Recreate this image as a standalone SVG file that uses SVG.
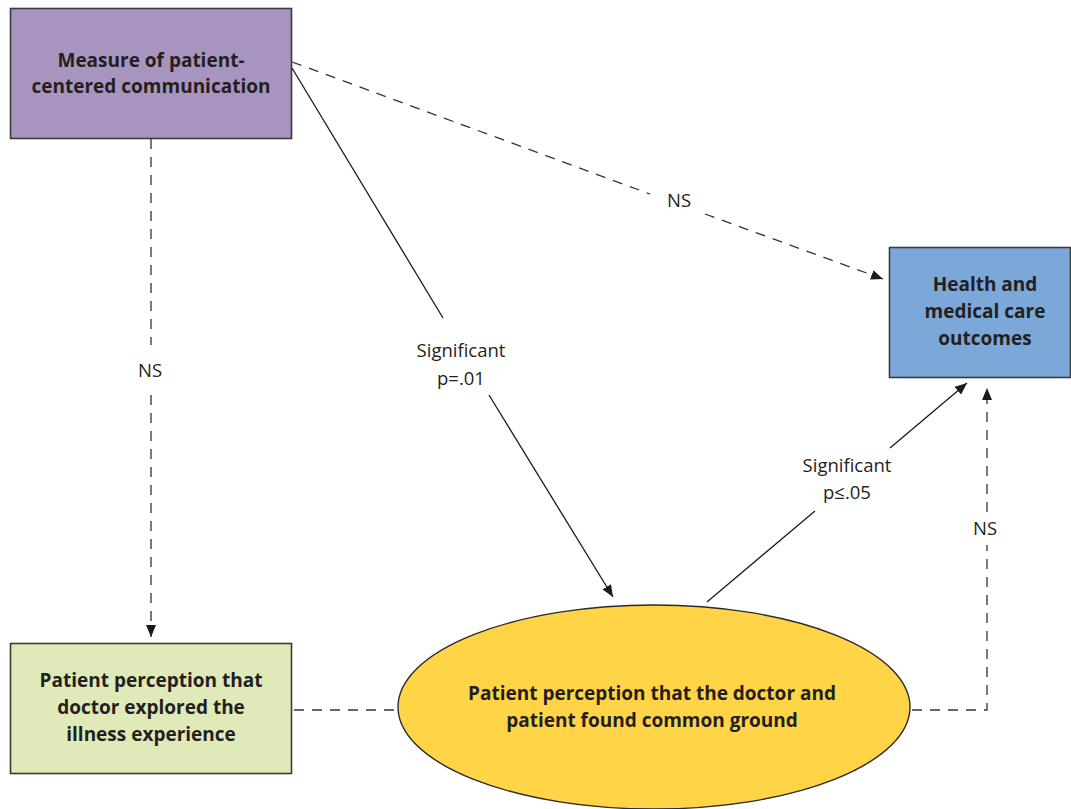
<svg xmlns="http://www.w3.org/2000/svg" width="1071" height="809" viewBox="0 0 1071 809">
  <defs>
    <marker id="arrow" viewBox="0 0 12 10" refX="12" refY="5" markerWidth="12" markerHeight="10" markerUnits="userSpaceOnUse" orient="auto">
      <path d="M0,0 L12,5 L0,10 Z" fill="#1a1a1a"/>
    </marker>
    <style>
      .box { stroke: #3a3a3a; stroke-width: 1.6; }
      .title { font-family: "Open Sans", "Noto Sans", sans-serif; font-weight: 700; font-size: 19px; fill: #231f20; text-anchor: middle; }
      .label { font-family: "Open Sans", "Noto Sans", sans-serif; font-size: 18.5px; fill: #231f20; text-anchor: middle; }
      .solid { stroke: #1a1a1a; stroke-width: 1.3; fill: none; }
      .dash { stroke: #333; stroke-width: 1.3; fill: none; stroke-dasharray: 10 8; }
    </style>
  </defs>
  <rect width="1071" height="809" fill="#ffffff"/>

  <g id="connectors">
    <!-- communication measure -> illness experience (NS) -->
    <path class="dash" d="M151,139 V345"/>
    <path class="dash" d="M151,395 V637" marker-end="url(#arrow)"/>
    <text class="label" x="150" y="377">NS</text>

    <!-- communication measure -> outcomes (NS) -->
    <path class="dash" d="M292,62 L650,194"/>
    <path class="dash" d="M705,214 L883,279" marker-end="url(#arrow)"/>
    <text class="label" x="679" y="207">NS</text>

    <!-- communication measure -> common ground (significant) -->
    <path class="solid" d="M292,68 L443,318"/>
    <path class="solid" d="M489,395 L613,597" marker-end="url(#arrow)"/>
    <text class="label" x="461" y="357">Significant</text>
    <text class="label" x="461" y="385">p=.01</text>

    <!-- common ground -> outcomes (significant) -->
    <path class="solid" d="M707,602 L815,511"/>
    <path class="solid" d="M890,448 L967,383" marker-end="url(#arrow)"/>
    <text class="label" x="847" y="472">Significant</text>
    <text class="label" x="847" y="499">p≤.05</text>

    <!-- illness experience — common ground -->
    <path class="dash" d="M294,710 H397"/>

    <!-- common ground -> outcomes (NS) -->
    <path class="dash" d="M912,710 H987 V545"/>
    <path class="dash" d="M987,512 V388" marker-end="url(#arrow)"/>
    <text class="label" x="985" y="535">NS</text>
  </g>

  <g id="node-communication">
    <rect class="box" x="10.5" y="8.5" width="281" height="130" fill="#a794bf"/>
    <text class="title" x="151" y="67">Measure of patient-</text>
    <text class="title" x="151" y="93">centered communication</text>
  </g>

  <g id="node-outcomes">
    <rect class="box" x="889.5" y="247.5" width="181" height="130" fill="#7ba7d9"/>
    <text class="title" x="985" y="291">Health and</text>
    <text class="title" x="985" y="318">medical care</text>
    <text class="title" x="985" y="345">outcomes</text>
  </g>

  <g id="node-illness">
    <rect class="box" x="10.5" y="643.5" width="281" height="130" fill="#dfeab8"/>
    <text class="title" x="151" y="687">Patient perception that</text>
    <text class="title" x="151" y="714">doctor explored the</text>
    <text class="title" x="151" y="741">illness experience</text>
  </g>

  <g id="node-common-ground">
    <ellipse cx="654" cy="707" rx="256" ry="102" fill="#ffd447" stroke="#2a2a2a" stroke-width="1.4"/>
    <text class="title" x="652" y="700">Patient perception that the doctor and</text>
    <text class="title" x="652" y="727">patient found common ground</text>
  </g>
</svg>
